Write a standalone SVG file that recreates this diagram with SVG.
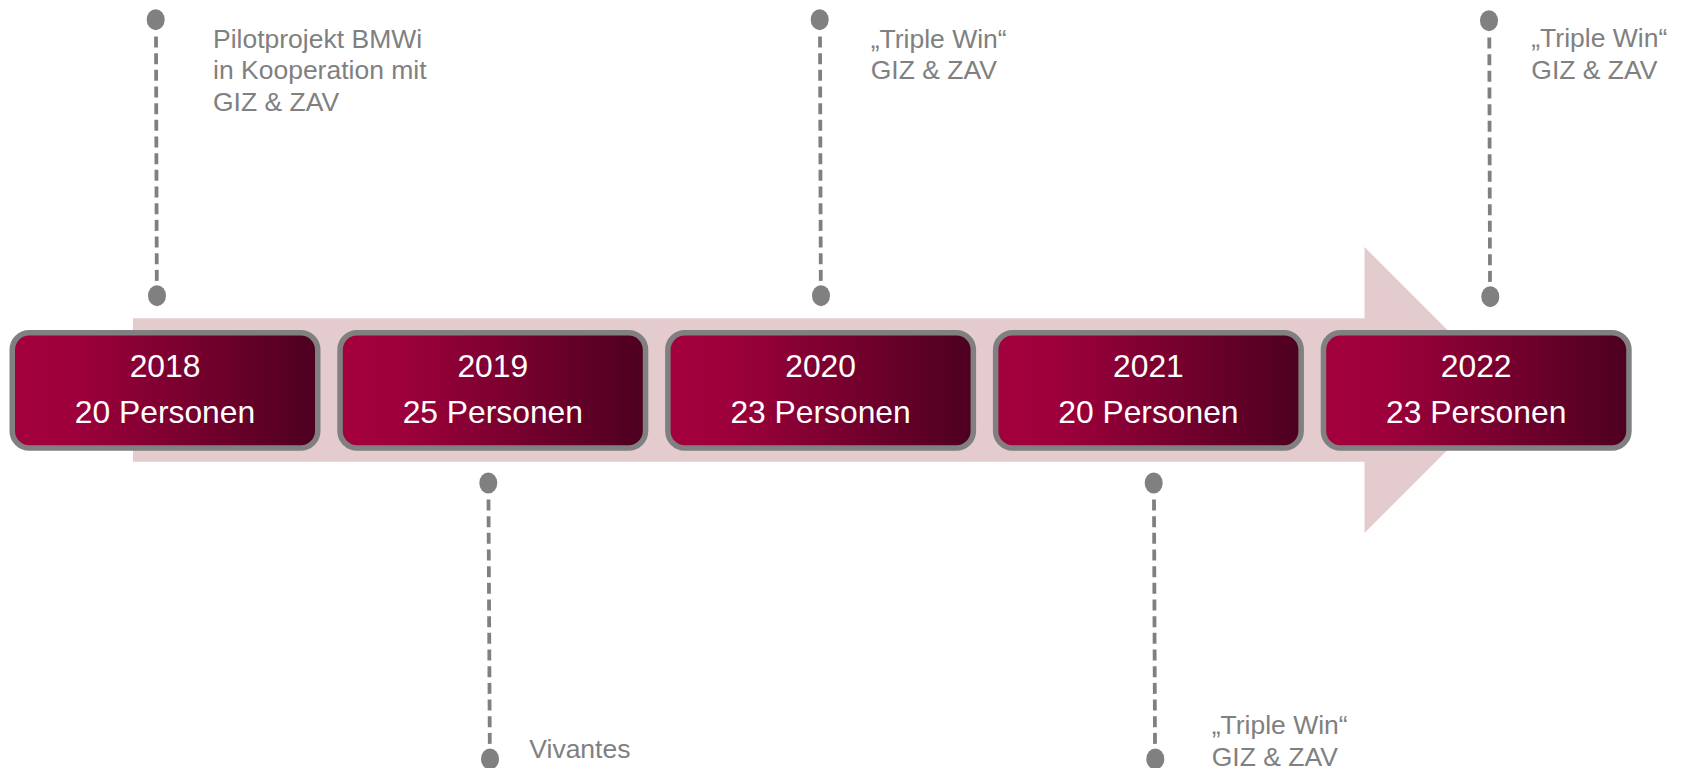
<svg xmlns="http://www.w3.org/2000/svg" width="1683" height="768" viewBox="0 0 1683 768">
  <defs>
    <linearGradient id="boxGrad" x1="0" y1="0" x2="1" y2="0">
      <stop offset="0" stop-color="#A3003D"/>
      <stop offset="0.2" stop-color="#9E003B"/>
      <stop offset="1" stop-color="#4D0020"/>
    </linearGradient>
    <style>
      .box { fill: url(#boxGrad); stroke: #808080; stroke-width: 5.5; }
      .yr { font-family: "Liberation Sans", Arial, sans-serif; font-size: 31.8px; fill: #FFFFFF; text-anchor: middle; }
      .lbl { font-family: "Liberation Sans", Arial, sans-serif; font-size: 26.5px; fill: #808080; }
      .dash { stroke: #808080; stroke-width: 3.8; stroke-dasharray: 11 5.67; fill: none; }
      .dot { fill: #808080; }
    </style>
  </defs>
  <rect width="1683" height="768" fill="#FFFFFF"/>

  <g id="arrow">
    <polygon points="133,318.3 1364.5,318.3 1364.5,247 1507.5,390 1364.5,533 1364.5,461.7 133,461.7" fill="#E4CBCE"/>
  </g>

  <g id="connectors">
    <g id="conn-2018">
      <line class="dash" x1="156" y1="36.5" x2="156.8" y2="282"/>
      <ellipse class="dot" cx="155.7" cy="19.7" rx="9" ry="10.5"/>
      <ellipse class="dot" cx="157" cy="295.7" rx="9" ry="10.5"/>
    </g>
    <g id="conn-2019">
      <line class="dash" x1="488.5" y1="499.5" x2="489.8" y2="745"/>
      <ellipse class="dot" cx="488.3" cy="483" rx="9" ry="10.5"/>
      <ellipse class="dot" cx="490" cy="759" rx="9" ry="10.5"/>
    </g>
    <g id="conn-2020">
      <line class="dash" x1="820" y1="36.5" x2="820.8" y2="282"/>
      <ellipse class="dot" cx="819.7" cy="19.7" rx="9" ry="10.5"/>
      <ellipse class="dot" cx="821" cy="295.7" rx="9" ry="10.5"/>
    </g>
    <g id="conn-2021">
      <line class="dash" x1="1154" y1="499.5" x2="1155" y2="745"/>
      <ellipse class="dot" cx="1153.7" cy="483" rx="9" ry="10.5"/>
      <ellipse class="dot" cx="1155.3" cy="759" rx="9" ry="10.5"/>
    </g>
    <g id="conn-2022">
      <line class="dash" x1="1489.3" y1="37.5" x2="1490" y2="283"/>
      <ellipse class="dot" cx="1489" cy="20.7" rx="9" ry="10.5"/>
      <ellipse class="dot" cx="1490.3" cy="296.7" rx="9" ry="10.5"/>
    </g>
  </g>

  <g id="node-2018">
    <rect class="box" x="12.25" y="332.75" width="305.5" height="115.2" rx="17" ry="17"/>
    <text class="yr" x="165" y="376.7">2018</text>
    <text class="yr" x="165" y="423.3">20 Personen</text>
  </g>
  <g id="node-2019">
    <rect class="box" x="340.05" y="332.75" width="305.5" height="115.2" rx="17" ry="17"/>
    <text class="yr" x="492.8" y="376.7">2019</text>
    <text class="yr" x="492.8" y="423.3">25 Personen</text>
  </g>
  <g id="node-2020">
    <rect class="box" x="667.85" y="332.75" width="305.5" height="115.2" rx="17" ry="17"/>
    <text class="yr" x="820.6" y="376.7">2020</text>
    <text class="yr" x="820.6" y="423.3">23 Personen</text>
  </g>
  <g id="node-2021">
    <rect class="box" x="995.65" y="332.75" width="305.5" height="115.2" rx="17" ry="17"/>
    <text class="yr" x="1148.4" y="376.7">2021</text>
    <text class="yr" x="1148.4" y="423.3">20 Personen</text>
  </g>
  <g id="node-2022">
    <rect class="box" x="1323.45" y="332.75" width="305.5" height="115.2" rx="17" ry="17"/>
    <text class="yr" x="1476.2" y="376.7">2022</text>
    <text class="yr" x="1476.2" y="423.3">23 Personen</text>
  </g>

  <g id="label-2018">
    <text class="lbl" x="213" y="47.7">Pilotprojekt BMWi</text>
    <text class="lbl" x="213" y="79.4">in Kooperation mit</text>
    <text class="lbl" x="213" y="111.1">GIZ &amp; ZAV</text>
  </g>
  <g id="label-2019">
    <text class="lbl" x="529.3" y="758">Vivantes</text>
  </g>
  <g id="label-2020">
    <text class="lbl" x="870.7" y="47.7">„Triple Win“</text>
    <text class="lbl" x="870.7" y="79.4">GIZ &amp; ZAV</text>
  </g>
  <g id="label-2021">
    <text class="lbl" x="1211.7" y="734.3">„Triple Win“</text>
    <text class="lbl" x="1211.7" y="766">GIZ &amp; ZAV</text>
  </g>
  <g id="label-2022">
    <text class="lbl" x="1531.3" y="47.2">„Triple Win“</text>
    <text class="lbl" x="1531.3" y="78.9">GIZ &amp; ZAV</text>
  </g>
</svg>
